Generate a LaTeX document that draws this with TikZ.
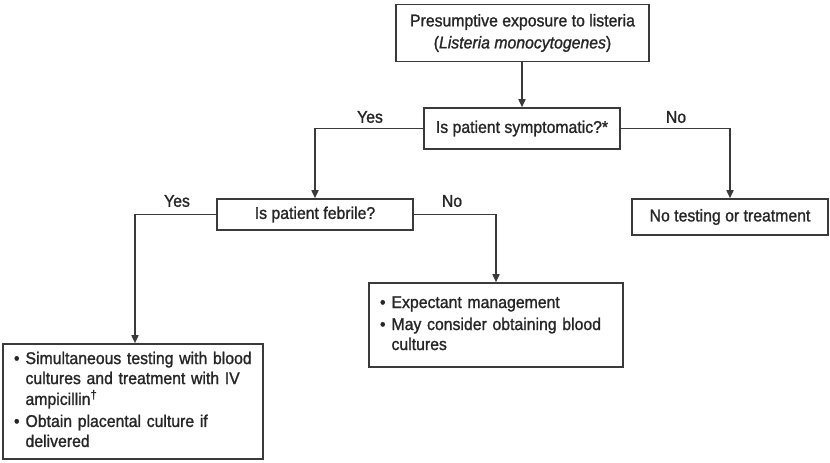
\documentclass[tikz,border=0pt]{standalone}
\usepackage{fontspec}
\setmainfont[FakeStretch=0.93,FakeBold=1.2]{Liberation Sans}
\usetikzlibrary{arrows.meta}
\definecolor{ln}{HTML}{3A3A3A}
\definecolor{tx}{HTML}{262626}
\begin{document}
\begin{tikzpicture}[x=1pt,y=-1pt,
  box/.style={draw=ln, line width=1.6pt, inner sep=0pt, text=tx, fill=white,
    font=\fontsize{17}{22}\selectfont},
  listbox/.style={box, inner xsep=11pt, align=left, font=\fontsize{17}{20}\selectfont},
  conn/.style={draw=ln, line width=1.6pt, -{Triangle[length=8pt,width=7pt]}},
  lab/.style={text=tx, font=\fontsize{17}{20}\selectfont, inner sep=0pt}]
\useasboundingbox[fill=white] (0,0) rectangle (830,463);

\node[box, minimum width=253pt, minimum height=57pt, align=center] (top) at (522.5,33)
  {Presumptive exposure to listeria\\(\textit{Listeria monocytogenes})};
\node[box, minimum width=196pt, minimum height=41pt] (sym) at (522,128.5)
  {Is patient symptomatic?*};
\node[box, minimum width=196pt, minimum height=31pt] (feb) at (315,214.5)
  {Is patient febrile?};
\node[box, minimum width=196pt, minimum height=36pt] (none) at (730,217)
  {No testing or treatment};
\node[listbox, text width=232pt, minimum height=84pt] (exp) at (496,325)
  {\noindent\begin{tabular}{@{}l@{\hspace{6pt}}l@{}}
   \textbullet & Expectant management\\[2pt]
   \textbullet & May consider obtaining blood\\
   & cultures
   \end{tabular}};
\node[listbox, text width=238pt, minimum height=115pt] (sim) at (133,401.5)
  {\noindent\begin{tabular}{@{}l@{\hspace{6pt}}l@{}}
   \textbullet & Simultaneous testing with blood\\
   & cultures and treatment with IV\\
   & ampicillin\textsuperscript{†}\\[2pt]
   \textbullet & Obtain placental culture if\\
   & delivered
   \end{tabular}};

\draw[conn] (top.south -| sym.north) -- (sym.north);
\draw[conn] (sym.west) -| (feb.north);
\draw[conn] (sym.east) -| (none.north);
\draw[conn] (feb.west) -| ([xshift=2pt]sim.north);
\draw[conn] (feb.east) -| (exp.north);

\node[lab] (yes1) at (370,117) {Yes};
\node[lab] (no1) at (676,117) {No};
\node[lab] (yes2) at (177,201) {Yes};
\node[lab] (no2) at (452,201) {No};
\end{tikzpicture}
\end{document}
